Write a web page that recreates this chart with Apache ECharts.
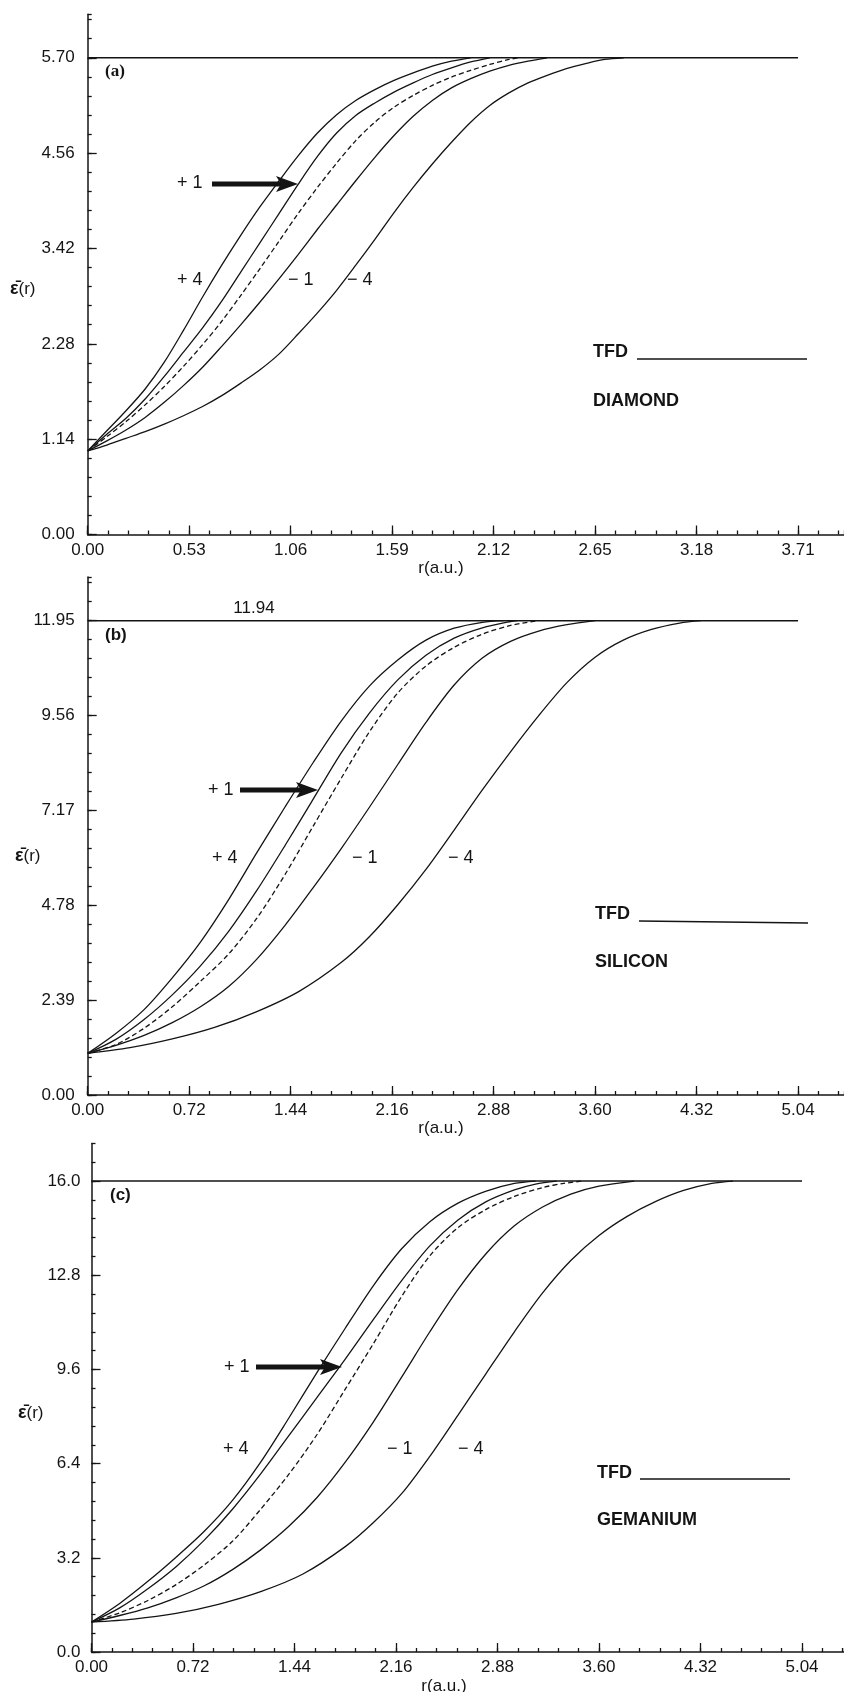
<!DOCTYPE html>
<html>
<head>
<meta charset="utf-8">
<title>TFD dielectric function</title>
<script src="https://cdn.jsdelivr.net/npm/echarts@6/dist/echarts.min.js"></script>
<style>
  html, body { margin: 0; padding: 0; background: #fff; }
  #chart { width: 844px; height: 1692px; }
</style>
</head>
<body>
<div id="chart"></div>
<script>
'use strict';

// values: [r (a.u.), eps(r)]
// (a) diamond
var diamondP4 = [[0,1.00],[0.1,1.24],[0.2,1.48],[0.3,1.74],[0.4,2.06],[0.5,2.44],[0.6,2.84],[0.7,3.22],[0.8,3.58],[0.9,3.92],[1.0,4.23],[1.1,4.53],[1.2,4.80],[1.3,5.02],[1.4,5.19],[1.5,5.32],[1.6,5.43],[1.7,5.52],[1.8,5.60],[1.9,5.66],[2.0,5.70]];
var diamondP1 = [[0,1.00],[0.1,1.20],[0.2,1.39],[0.3,1.62],[0.4,1.89],[0.5,2.18],[0.6,2.47],[0.7,2.79],[0.8,3.14],[0.9,3.49],[1.0,3.84],[1.1,4.19],[1.2,4.52],[1.3,4.80],[1.4,5.01],[1.5,5.16],[1.6,5.29],[1.7,5.40],[1.8,5.50],[1.9,5.58],[2.0,5.65],[2.1,5.70]];
var diamondZero = [[0,1.00],[0.1,1.17],[0.2,1.35],[0.3,1.55],[0.4,1.77],[0.5,2.01],[0.6,2.27],[0.7,2.55],[0.8,2.86],[0.9,3.18],[1.0,3.51],[1.1,3.84],[1.2,4.15],[1.3,4.44],[1.4,4.71],[1.5,4.93],[1.6,5.11],[1.7,5.25],[1.8,5.37],[1.9,5.47],[2.0,5.55],[2.1,5.62],[2.2,5.68],[2.25,5.70]];
var diamondM1 = [[0,1.00],[0.1,1.12],[0.2,1.25],[0.3,1.40],[0.4,1.58],[0.5,1.78],[0.6,2.00],[0.7,2.25],[0.8,2.51],[0.9,2.78],[1.0,3.06],[1.1,3.35],[1.2,3.65],[1.3,3.94],[1.4,4.23],[1.5,4.51],[1.6,4.77],[1.7,5.00],[1.8,5.19],[1.9,5.34],[2.0,5.45],[2.1,5.54],[2.2,5.61],[2.3,5.66],[2.4,5.70]];
var diamondM4 = [[0,1.00],[0.1,1.07],[0.2,1.15],[0.3,1.23],[0.4,1.32],[0.5,1.42],[0.6,1.53],[0.7,1.66],[0.8,1.81],[0.9,1.97],[1.0,2.16],[1.1,2.40],[1.2,2.65],[1.3,2.92],[1.4,3.22],[1.5,3.53],[1.6,3.85],[1.7,4.15],[1.8,4.43],[1.9,4.69],[2.0,4.93],[2.1,5.13],[2.2,5.28],[2.3,5.40],[2.4,5.49],[2.5,5.57],[2.6,5.63],[2.7,5.68],[2.8,5.70]];
var diamondEps0 = 5.70;
var diamondXTicks = [0, 0.53, 1.06, 1.59, 2.12, 2.65, 3.18, 3.71];
var diamondYTicks = [0, 1.14, 2.28, 3.42, 4.56, 5.70];

// (b) silicon
var siliconP4 = [[0,1.05],[0.2,1.55],[0.4,2.15],[0.6,2.95],[0.8,3.85],[1.0,4.92],[1.2,6.10],[1.4,7.25],[1.6,8.37],[1.8,9.42],[2.0,10.30],[2.2,10.95],[2.4,11.45],[2.6,11.75],[2.8,11.90],[2.95,11.94]];
var siliconP1 = [[0,1.05],[0.2,1.40],[0.4,1.90],[0.6,2.52],[0.8,3.25],[1.0,4.12],[1.2,5.15],[1.4,6.28],[1.6,7.45],[1.8,8.62],[2.0,9.62],[2.2,10.45],[2.4,11.07],[2.6,11.50],[2.8,11.76],[3.0,11.92],[3.05,11.94]];
var siliconZero = [[0,1.05],[0.2,1.27],[0.4,1.68],[0.6,2.22],[0.8,2.86],[1.0,3.55],[1.2,4.45],[1.4,5.55],[1.6,6.77],[1.8,7.98],[2.0,9.15],[2.2,10.12],[2.4,10.80],[2.6,11.27],[2.8,11.60],[3.0,11.82],[3.2,11.94]];
var siliconM1 = [[0,1.05],[0.2,1.25],[0.4,1.50],[0.6,1.82],[0.8,2.22],[1.0,2.73],[1.2,3.42],[1.4,4.27],[1.6,5.22],[1.8,6.21],[2.0,7.25],[2.2,8.32],[2.4,9.38],[2.6,10.32],[2.8,11.00],[3.0,11.42],[3.2,11.68],[3.4,11.84],[3.6,11.94]];
var siliconM4 = [[0,1.05],[0.3,1.19],[0.6,1.41],[0.9,1.70],[1.2,2.10],[1.5,2.61],[1.8,3.34],[2.0,3.99],[2.2,4.79],[2.4,5.68],[2.6,6.67],[2.8,7.68],[3.0,8.64],[3.2,9.55],[3.4,10.38],[3.6,11.02],[3.8,11.45],[4.0,11.72],[4.2,11.88],[4.35,11.94]];
var siliconEps0 = 11.94;
var siliconXTicks = [0, 0.72, 1.44, 2.16, 2.88, 3.60, 4.32, 5.04];
var siliconYTicks = [0, 2.39, 4.78, 7.17, 9.56, 11.95];

// (c) germanium
var germaniumP4 = [[0,1.02],[0.2,1.65],[0.4,2.40],[0.6,3.22],[0.8,4.10],[1.0,5.15],[1.2,6.45],[1.4,7.95],[1.6,9.50],[1.8,11.00],[2.0,12.45],[2.2,13.70],[2.4,14.62],[2.6,15.25],[2.8,15.66],[3.0,15.92],[3.15,16.0]];
var germaniumP1 = [[0,1.02],[0.2,1.50],[0.4,2.15],[0.6,2.90],[0.8,3.80],[1.0,4.85],[1.2,6.05],[1.4,7.35],[1.6,8.65],[1.8,9.95],[2.0,11.30],[2.2,12.62],[2.4,13.80],[2.6,14.68],[2.8,15.30],[3.0,15.70],[3.15,15.90],[3.3,16.0]];
var germaniumZero = [[0,1.02],[0.2,1.33],[0.4,1.75],[0.6,2.29],[0.8,2.96],[1.0,3.76],[1.2,4.85],[1.4,6.04],[1.6,7.39],[1.8,8.93],[2.0,10.48],[2.2,12.08],[2.4,13.46],[2.6,14.42],[2.8,15.04],[3.0,15.48],[3.2,15.78],[3.35,15.92],[3.48,16.0]];
var germaniumM1 = [[0,1.02],[0.2,1.24],[0.4,1.50],[0.6,1.84],[0.8,2.25],[1.0,2.80],[1.2,3.47],[1.4,4.27],[1.6,5.25],[1.8,6.45],[2.0,7.82],[2.2,9.34],[2.4,10.88],[2.6,12.32],[2.8,13.54],[3.0,14.48],[3.2,15.12],[3.4,15.56],[3.6,15.83],[3.85,16.0]];
var germaniumM4 = [[0,1.02],[0.3,1.12],[0.6,1.31],[0.9,1.62],[1.2,2.05],[1.5,2.65],[1.8,3.58],[2.0,4.40],[2.2,5.38],[2.4,6.65],[2.6,8.05],[2.8,9.47],[3.0,10.88],[3.2,12.20],[3.4,13.30],[3.6,14.15],[3.8,14.80],[4.0,15.30],[4.2,15.68],[4.4,15.92],[4.55,16.0]];
var germaniumEps0 = 16.0;
var germaniumXTicks = [0, 0.72, 1.44, 2.16, 2.88, 3.60, 4.32, 5.04];
var germaniumYTicks = [0, 3.2, 6.4, 9.6, 12.8, 16.0];

var INK = '#141414';
var FONT = '"Liberation Sans", Arial, sans-serif';

// layout of the three stacked plots (pixels)
var panels = [
    { left: 87.7, top: 14.3, width: 756.3, height: 520.2, xMax: 3.95, yMax: 6.22,
      xTicks: diamondXTicks, yTicks: diamondYTicks, yDigits: 2, yMargin: 13, lineEnd: 3.71,
      eps0: diamondEps0, curves: [diamondP4, diamondP1, diamondZero, diamondM1, diamondM4] },
    { left: 87.7, top: 577, width: 756.3, height: 518, xMax: 5.366, yMax: 13.04,
      xTicks: siliconXTicks, yTicks: siliconYTicks, yDigits: 2, yMargin: 13, lineEnd: 5.04,
      eps0: siliconEps0, curves: [siliconP4, siliconP1, siliconZero, siliconM1, siliconM4] },
    { left: 91.5, top: 1143.4, width: 752.5, height: 508.6, xMax: 5.338, yMax: 17.28,
      xTicks: germaniumXTicks, yTicks: germaniumYTicks, yDigits: 1, yMargin: 11, lineEnd: 5.04,
      eps0: germaniumEps0, curves: [germaniumP4, germaniumP1, germaniumZero, germaniumM1, germaniumM4] }
];

var grids = [], xAxes = [], yAxes = [], series = [];

panels.forEach(function (p, i) {
    var tickLine = { color: INK, width: 1.3 };
    var xStep = p.xTicks[1], yStep = p.yTicks[1];
    grids.push({ left: p.left, top: p.top, width: p.width, height: p.height, outerBoundsMode: 'none' });

    // major ticks + labels
    xAxes.push({
        type: 'value', gridIndex: i, position: 'bottom', min: 0, max: p.xMax, interval: xStep,
        axisLine: { show: false, onZero: false }, splitLine: { show: false },
        axisTick: { inside: true, length: 9, lineStyle: tickLine, customValues: p.xTicks },
        axisLabel: { customValues: p.xTicks, margin: 7, color: INK, fontSize: 17, fontFamily: FONT,
            formatter: function (v) { return v.toFixed(2); } }
    });
    // minor ticks + axis line
    xAxes.push({
        type: 'value', gridIndex: i, position: 'bottom', min: 0, max: p.xMax, interval: xStep / 5,
        axisLine: { show: true, onZero: false, lineStyle: { color: INK, width: 1.5 } },
        splitLine: { show: false },
        axisTick: { inside: true, length: 4, lineStyle: tickLine },
        axisLabel: { show: false }
    });
    yAxes.push({
        type: 'value', gridIndex: i, position: 'left', min: 0, max: p.yMax, interval: yStep,
        axisLine: { show: false, onZero: false }, splitLine: { show: false },
        axisTick: { inside: true, length: 9, lineStyle: tickLine, customValues: p.yTicks },
        axisLabel: { customValues: p.yTicks, margin: p.yMargin, color: INK, fontSize: 17, fontFamily: FONT,
            formatter: (function (d) { return function (v) { return v.toFixed(d); }; })(p.yDigits) }
    });
    yAxes.push({
        type: 'value', gridIndex: i, position: 'left', min: 0, max: p.yMax, interval: yStep / 5,
        axisLine: { show: true, onZero: false, lineStyle: { color: INK, width: 1.5 } },
        splitLine: { show: false },
        axisTick: { inside: true, length: 4, lineStyle: tickLine },
        axisLabel: { show: false }
    });

    p.curves.forEach(function (c, k) {
        series.push({
            type: 'line', xAxisIndex: 2 * i, yAxisIndex: 2 * i, data: c,
            smooth: 0.3, symbol: 'none', silent: true,
            lineStyle: { color: INK, width: 1.3, type: k === 2 ? [5, 3] : 'solid' }
        });
    });
    series.push({
        type: 'line', xAxisIndex: 2 * i, yAxisIndex: 2 * i,
        data: [[0, p.eps0], [p.lineEnd, p.eps0]], symbol: 'none', silent: true,
        lineStyle: { color: INK, width: 1.5 }
    });
});

function txt(s, x, y, font, align) {
    return { type: 'text', x: x, y: y, silent: true,
        style: { text: s, font: font, fill: INK, align: align || 'left', verticalAlign: 'middle' } };
}
function arrow(x1, x2, y) {
    return { type: 'group', silent: true, children: [
        { type: 'rect', shape: { x: x1, y: y - 2.5, width: x2 - x1 - 16, height: 5 }, style: { fill: INK } },
        { type: 'polygon', shape: { points: [[x2 - 22, y - 8], [x2, y], [x2 - 22, y + 8], [x2 - 17, y]] }, style: { fill: INK } }
    ] };
}
function epsTitle(x, y) {
    return { type: 'text', x: x, y: y, silent: true,
        style: { text: '{e|\u03b5\u0304}(r)', font: '17px ' + FONT, fill: INK, verticalAlign: 'middle',
            rich: { e: { font: 'bold 18px ' + FONT, fill: INK } } } };
}

var NUM = '18px ' + FONT;
var BOLD = 'bold 18px ' + FONT;

var graphics = [
    // (a)
    txt('(a)', 105, 72, 'bold 17px "Liberation Serif", serif'),
    txt('+ 1', 177, 183, NUM), arrow(212, 298, 184),
    txt('+ 4', 177, 280, NUM), txt('\u2212 1', 288, 280, NUM), txt('\u2212 4', 347, 280, NUM),
    txt('TFD', 593, 352, BOLD),
    { type: 'line', silent: true, shape: { x1: 637, y1: 359, x2: 807, y2: 359 }, style: { stroke: INK, lineWidth: 1.3 } },
    txt('DIAMOND', 593, 401, BOLD),
    epsTitle(10, 289),
    txt('r(a.u.)', 441, 568, '17px ' + FONT, 'center'),
    // (b)
    txt('11.94', 254, 608, '17px ' + FONT, 'center'),
    txt('(b)', 105, 635, 'bold 17px ' + FONT),
    txt('+ 1', 208, 790, NUM), arrow(240, 318, 790),
    txt('+ 4', 212, 858, NUM), txt('\u2212 1', 352, 858, NUM), txt('\u2212 4', 448, 858, NUM),
    txt('TFD', 595, 914, BOLD),
    { type: 'line', silent: true, shape: { x1: 639, y1: 921, x2: 808, y2: 923 }, style: { stroke: INK, lineWidth: 1.3 } },
    txt('SILICON', 595, 962, BOLD),
    epsTitle(15, 856),
    txt('r(a.u.)', 441, 1128, '17px ' + FONT, 'center'),
    // (c)
    txt('(c)', 110, 1195, 'bold 17px ' + FONT),
    txt('+ 1', 224, 1367, NUM), arrow(256, 342, 1367),
    txt('+ 4', 223, 1449, NUM), txt('\u2212 1', 387, 1449, NUM), txt('\u2212 4', 458, 1449, NUM),
    txt('TFD', 597, 1473, BOLD),
    { type: 'line', silent: true, shape: { x1: 640, y1: 1479, x2: 790, y2: 1479 }, style: { stroke: INK, lineWidth: 1.3 } },
    txt('GEMANIUM', 597, 1520, BOLD),
    epsTitle(18, 1413),
    txt('r(a.u.)', 444, 1686, '17px ' + FONT, 'center')
];

var chart = echarts.init(document.getElementById('chart'));
chart.setOption({
    animation: false,
    backgroundColor: '#fff',
    grid: grids,
    xAxis: xAxes,
    yAxis: yAxes,
    series: series,
    graphic: graphics
});
</script>
</body>
</html>
